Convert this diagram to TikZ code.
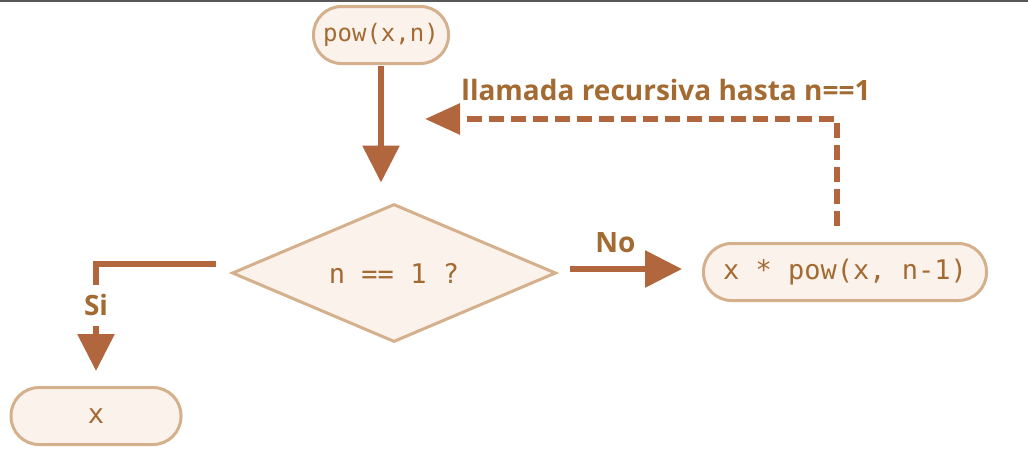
\documentclass[tikz,border=0pt]{standalone}
\usepackage{fontspec}
\setmainfont{Open Sans}
\setmonofont{DejaVu Sans Mono}
\usepackage{xcolor}
\usepackage{tikz}
\usetikzlibrary{arrows.meta,positioning,shapes.geometric}
\definecolor{flowFill}{RGB}{251,242,236}
\definecolor{flowBorder}{RGB}{213,176,140}
\definecolor{flowArrow}{RGB}{177,102,62}
\definecolor{flowText}{RGB}{163,106,50}
\definecolor{flowTop}{RGB}{88,88,88}

\begin{document}
\begin{tikzpicture}[x=1pt,y=-1pt,
    pill/.style={draw=flowBorder, fill=flowFill, line width=3pt, rounded corners=28pt,
        minimum height=57pt, inner sep=0pt, text=flowText,
        font=\ttfamily\fontsize{27}{30}\selectfont},
    decision/.style={diamond, draw=flowBorder, fill=flowFill, line width=3pt,
        minimum width=324pt, minimum height=138pt, aspect=2.35, inner sep=0pt,
        text=flowText, font=\ttfamily\fontsize{27}{30}\selectfont},
    flow/.style={draw=flowArrow, line width=6pt, -{Triangle[length=37pt,width=36pt]}},
    tag/.style={text=flowText, font=\bfseries\fontsize{28}{30}\selectfont}]
    % page frame
    \useasboundingbox (0,0) rectangle (1028,448);
    \fill[flowTop] (0,0) rectangle (1028,2);

    % blocks
    \node[pill, minimum width=135pt, font=\ttfamily\fontsize{24}{30}\selectfont] (pow) at (381,35) {pow(x,n)};
    \node[decision] (cond) at (394,273) {n == 1 ?};
    \node[pill, minimum width=283pt] (step) at (845,272) {x * pow(x, n-1)};
    \node[pill, minimum width=170pt] (base) at (96,416) {x};
    \coordinate (back) at (425,119);

    % entry
    \draw[flow, shorten <=1pt, shorten >=20pt] (pow.south) -- (pow.south |- cond.north);

    % no branch
    \draw[flow, shorten <=12pt, shorten >=20pt]
        ([yshift=4pt]cond.east) -- ([yshift=4pt]cond.east -| step.west)
        node[tag, pos=0.4, above=10pt] {No};

    % yes branch
    \draw[flow, shorten >=15pt] ([xshift=-15pt,yshift=9pt]cond.west) -| (base.north)
        node[tag, pos=0.67, fill=white, inner sep=0pt, minimum height=41pt] {Si};

    % recursion
    \draw[flow, dash pattern=on 15pt off 7pt, -{Triangle[length=35pt,width=30pt]}]
        ([xshift=-8pt,yshift=16pt]step.north) |- (back);
    \node[tag] (rec) at (666,90) {llamada recursiva hasta n==1};
\end{tikzpicture}
\end{document}
